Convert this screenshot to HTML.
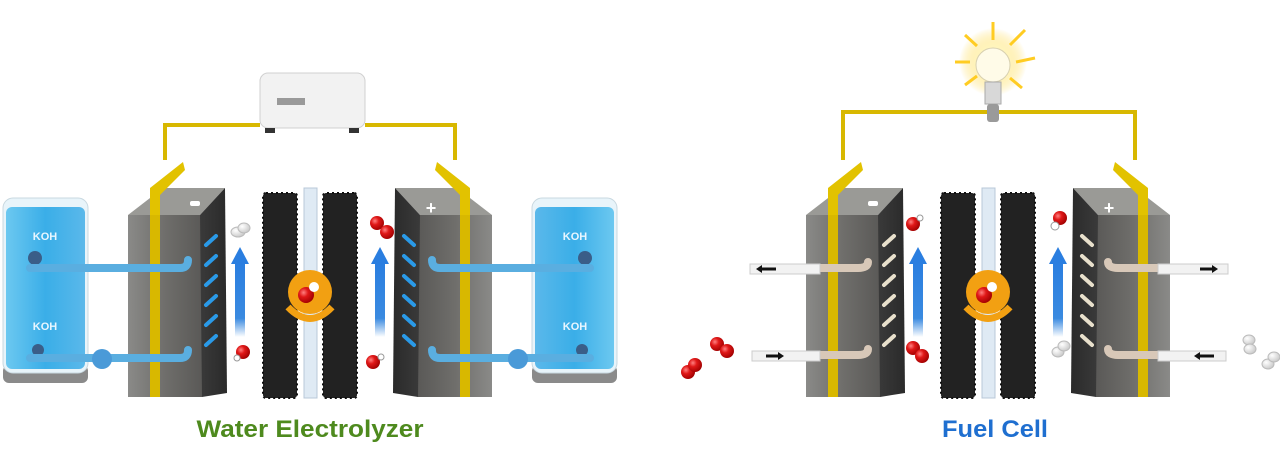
<!DOCTYPE html>
<html><head><meta charset="utf-8"><style>
html,body{margin:0;padding:0;background:#fff;}
svg{display:block}
</style></head><body>
<svg width="1280" height="463" viewBox="0 0 1280 463" xmlns="http://www.w3.org/2000/svg">
<defs>
<linearGradient id="front" x1="0" x2="1" y1="0" y2="0">
<stop offset="0" stop-color="#8a8a88"/><stop offset="0.5" stop-color="#6f6e6b"/><stop offset="1" stop-color="#5a5957"/></linearGradient>
<linearGradient id="side" x1="0" x2="1"><stop offset="0" stop-color="#3a3a3a"/><stop offset="1" stop-color="#2a2a2a"/></linearGradient>
<linearGradient id="liq" x1="0" x2="1"><stop offset="0" stop-color="#6cc8f0"/><stop offset="0.5" stop-color="#3aaee8"/><stop offset="1" stop-color="#5ab8ea"/></linearGradient>
<linearGradient id="arr" x1="0" y1="0" x2="0" y2="1"><stop offset="0" stop-color="#2a7ee0"/><stop offset="0.75" stop-color="#3a8ae0"/><stop offset="1" stop-color="#ffffff"/></linearGradient>
<radialGradient id="red" cx="0.35" cy="0.35" r="0.7"><stop offset="0" stop-color="#ff8080"/><stop offset="0.4" stop-color="#e01818"/><stop offset="1" stop-color="#a00000"/></radialGradient>
<radialGradient id="wh" cx="0.35" cy="0.35" r="0.7"><stop offset="0" stop-color="#fff"/><stop offset="1" stop-color="#c8c8c8"/></radialGradient>
<radialGradient id="glow" cx="0.5" cy="0.5" r="0.5"><stop offset="0" stop-color="#fff"/><stop offset="0.4" stop-color="#fff6c0"/><stop offset="1" stop-color="#ffd84a" stop-opacity="0"/></radialGradient>

<g id="plate">
  <polygon points="128,215 163,188 225,188 200,215" fill="#9a9a96"/>
  <rect x="128" y="215" width="74" height="182" fill="url(#front)"/>
  <polygon points="200,215 225,188 227,393 202,397" fill="url(#side)"/>
  <polygon points="150,215 150,397 160,397 160,215" fill="#d8b800"/>
  <polygon points="150,215 150,188 183,162 185,170 160,195 160,215" fill="#e2c200"/>
  <rect x="263" y="193" width="34" height="205" fill="#222" rx="3"/>
  <rect x="263" y="193" width="34" height="205" fill="none" stroke="#111" stroke-width="2" stroke-dasharray="2 3" rx="3"/>
  <rect x="235" y="262" width="10" height="75" fill="url(#arr)"/>
  <polygon points="231,264 240,247 249,264" fill="#2a7ee0"/>
</g>
<g id="slotsB">
  <g stroke="#2a9ae8" stroke-width="4" stroke-linecap="round">
  <line x1="206" y1="245" x2="216" y2="236"/><line x1="206" y1="265" x2="216" y2="256"/>
  <line x1="206" y1="285" x2="216" y2="276"/><line x1="206" y1="305" x2="216" y2="296"/>
  <line x1="206" y1="325" x2="216" y2="316"/><line x1="206" y1="345" x2="216" y2="336"/></g>
</g>
<g id="slotsW">
  <g stroke="#e8e0cc" stroke-width="4" stroke-linecap="round">
  <line x1="206" y1="245" x2="216" y2="236"/><line x1="206" y1="265" x2="216" y2="256"/>
  <line x1="206" y1="285" x2="216" y2="276"/><line x1="206" y1="305" x2="216" y2="296"/>
  <line x1="206" y1="325" x2="216" y2="316"/><line x1="206" y1="345" x2="216" y2="336"/></g>
</g>
<g id="tank">
  <rect x="3" y="365" width="85" height="18" rx="6" fill="#8a8a8a"/>
  <rect x="3" y="198" width="85" height="175" rx="10" fill="#e8f4fa" stroke="#c8d8e0"/>
  <rect x="6" y="207" width="79" height="162" rx="6" fill="url(#liq)"/>
  <circle cx="35" cy="258" r="7" fill="#3a5e88"/>
  <circle cx="38" cy="350" r="6" fill="#3a5e88"/>
</g>
<g id="tpipe">
  <path d="M30,268 H180 Q188,268 188,260" stroke="#5aaee0" stroke-width="8" fill="none" stroke-linecap="round"/>
  <path d="M30,358 H180 Q188,358 188,350" stroke="#5aaee0" stroke-width="8" fill="none" stroke-linecap="round"/>
  <circle cx="102" cy="359" r="10" fill="#4a9ad8"/>
</g>
<g id="pipe">
  <path d="M140,268 H180 Q190,268 190,262" stroke="#d8c8b8" stroke-width="8" fill="none" stroke-linecap="round"/>
  <path d="M140,355 H180 Q190,355 190,349" stroke="#d8c8b8" stroke-width="8" fill="none" stroke-linecap="round"/>
</g>
</defs>

<polyline points="165,160 165,125 260,125" fill="none" stroke="#d8b800" stroke-width="4"/>
<polyline points="365,125 455,125 455,160" fill="none" stroke="#d8b800" stroke-width="4"/>
<rect x="260" y="73" width="105" height="55" rx="8" fill="#f2f2f2" stroke="#d0d0d0"/>
<rect x="277" y="98" width="28" height="7" fill="#9a9a9a"/>
<rect x="265" y="128" width="10" height="5" fill="#333"/><rect x="349" y="128" width="10" height="5" fill="#333"/>

<use href="#tank"/>
<use href="#tank" transform="translate(620,0) scale(-1,1)"/>
<use href="#plate"/>
<use href="#slotsB"/>
<g transform="translate(620,0) scale(-1,1)"><use href="#plate"/><use href="#slotsB"/></g>
<use href="#tpipe"/>
<use href="#tpipe" transform="translate(620,0) scale(-1,1)"/>
<rect x="304" y="188" width="13" height="210" fill="#dfeaf4" stroke="#b8c8d8"/>
<rect x="190" y="201" width="10" height="5" rx="2" fill="#fff"/>
<text x="431" y="214" font-family="Liberation Sans,sans-serif" font-size="18" font-weight="bold" fill="#fff" text-anchor="middle">+</text>
<text x="45" y="240" font-family="Liberation Sans,sans-serif" font-size="11" font-weight="bold" fill="#e8f6ff" text-anchor="middle">KOH</text>
<text x="45" y="330" font-family="Liberation Sans,sans-serif" font-size="11" font-weight="bold" fill="#e8f6ff" text-anchor="middle">KOH</text>
<text x="575" y="240" font-family="Liberation Sans,sans-serif" font-size="11" font-weight="bold" fill="#e8f6ff" text-anchor="middle">KOH</text>
<text x="575" y="330" font-family="Liberation Sans,sans-serif" font-size="11" font-weight="bold" fill="#e8f6ff" text-anchor="middle">KOH</text>
<ellipse cx="238" cy="232" rx="7" ry="5" fill="url(#wh)" stroke="#bbb"/><ellipse cx="244" cy="228" rx="6" ry="5" fill="url(#wh)" stroke="#bbb"/>
<circle cx="377" cy="223" r="7" fill="url(#red)"/><circle cx="387" cy="232" r="7" fill="url(#red)"/>
<circle cx="243" cy="352" r="7" fill="url(#red)"/><circle cx="237" cy="358" r="3" fill="#fff" stroke="#999"/>
<circle cx="373" cy="362" r="7" fill="url(#red)"/><circle cx="381" cy="357" r="3" fill="#fff" stroke="#999"/>
<circle cx="310" cy="292" r="22" fill="#f2a012"/>
<path d="M288,307 Q310,330 332,307" stroke="#f2a012" stroke-width="7" fill="none"/>
<circle cx="306" cy="295" r="8" fill="url(#red)"/><circle cx="314" cy="287" r="5" fill="#fff"/>
<text x="310" y="437" font-family="Liberation Sans,sans-serif" font-size="24" font-weight="bold" fill="#4e8a1e" text-anchor="middle" textLength="227" lengthAdjust="spacingAndGlyphs">Water Electrolyzer</text>

<polyline points="843,160 843,112 1135,112 1135,160" fill="none" stroke="#d8b800" stroke-width="4"/>
<circle cx="993" cy="62" r="34" fill="url(#glow)"/>
<g stroke="#ffcc22" stroke-width="3">
<line x1="993" y1="22" x2="993" y2="40"/><line x1="955" y1="62" x2="970" y2="62"/><line x1="1016" y1="62" x2="1035" y2="58"/>
<line x1="965" y1="35" x2="977" y2="46"/><line x1="1025" y1="30" x2="1010" y2="45"/><line x1="965" y1="85" x2="977" y2="76"/><line x1="1022" y1="88" x2="1010" y2="78"/></g>
<circle cx="993" cy="65" r="17" fill="#fffbe8" stroke="#d8d0b0"/>
<rect x="985" y="82" width="16" height="22" fill="#d8d8d8" stroke="#aaa"/>
<rect x="987" y="104" width="12" height="18" rx="3" fill="#9a9a9a"/>

<g transform="translate(678,0)"><use href="#plate"/><use href="#slotsW"/><use href="#pipe"/></g>
<g transform="translate(1298,0) scale(-1,1)"><use href="#plate"/><use href="#slotsW"/><use href="#pipe"/></g>
<rect x="750" y="264" width="70" height="10" fill="#f2f2f2" stroke="#ccc"/>
<rect x="752" y="351" width="68" height="10" fill="#f2f2f2" stroke="#ccc"/>
<rect x="1158" y="264" width="70" height="10" fill="#f2f2f2" stroke="#ccc"/>
<rect x="1158" y="351" width="68" height="10" fill="#f2f2f2" stroke="#ccc"/>
<path d="M760,269 h16" stroke="#111" stroke-width="3"/><polygon points="756,269 762,265 762,273" fill="#111"/>
<path d="M766,356 h14" stroke="#111" stroke-width="3"/><polygon points="784,356 778,352 778,360" fill="#111"/>
<path d="M1200,269 h14" stroke="#111" stroke-width="3"/><polygon points="1218,269 1212,265 1212,273" fill="#111"/>
<path d="M1198,356 h16" stroke="#111" stroke-width="3"/><polygon points="1194,356 1200,352 1200,360" fill="#111"/>
<rect x="982" y="188" width="13" height="210" fill="#dfeaf4" stroke="#b8c8d8"/>
<rect x="868" y="201" width="10" height="5" rx="2" fill="#fff"/>
<text x="1109" y="214" font-family="Liberation Sans,sans-serif" font-size="18" font-weight="bold" fill="#fff" text-anchor="middle">+</text>
<circle cx="913" cy="224" r="7" fill="url(#red)"/><circle cx="920" cy="218" r="3" fill="#fff" stroke="#999"/>
<circle cx="1060" cy="218" r="7" fill="url(#red)"/><circle cx="1055" cy="226" r="4" fill="#fff" stroke="#999"/>
<circle cx="913" cy="348" r="7" fill="url(#red)"/><circle cx="922" cy="356" r="7" fill="url(#red)"/>
<ellipse cx="1058" cy="352" rx="6" ry="5" fill="url(#wh)" stroke="#bbb"/><ellipse cx="1064" cy="346" rx="6" ry="5" fill="url(#wh)" stroke="#bbb"/>
<circle cx="688" cy="372" r="7" fill="url(#red)"/><circle cx="695" cy="365" r="7" fill="url(#red)"/>
<circle cx="717" cy="344" r="7" fill="url(#red)"/><circle cx="727" cy="351" r="7" fill="url(#red)"/>
<ellipse cx="1249" cy="340" rx="6" ry="5" fill="url(#wh)" stroke="#bbb"/><ellipse cx="1250" cy="349" rx="6" ry="5" fill="url(#wh)" stroke="#bbb"/>
<ellipse cx="1268" cy="364" rx="6" ry="5" fill="url(#wh)" stroke="#bbb"/><ellipse cx="1274" cy="357" rx="6" ry="5" fill="url(#wh)" stroke="#bbb"/>
<circle cx="988" cy="292" r="22" fill="#f2a012"/>
<path d="M966,307 Q988,330 1010,307" stroke="#f2a012" stroke-width="7" fill="none"/>
<circle cx="984" cy="295" r="8" fill="url(#red)"/><circle cx="992" cy="287" r="5" fill="#fff"/>
<text x="995" y="437" font-family="Liberation Sans,sans-serif" font-size="24" font-weight="bold" fill="#1f6fd0" text-anchor="middle" textLength="106" lengthAdjust="spacingAndGlyphs">Fuel Cell</text>
</svg>
</body></html>
